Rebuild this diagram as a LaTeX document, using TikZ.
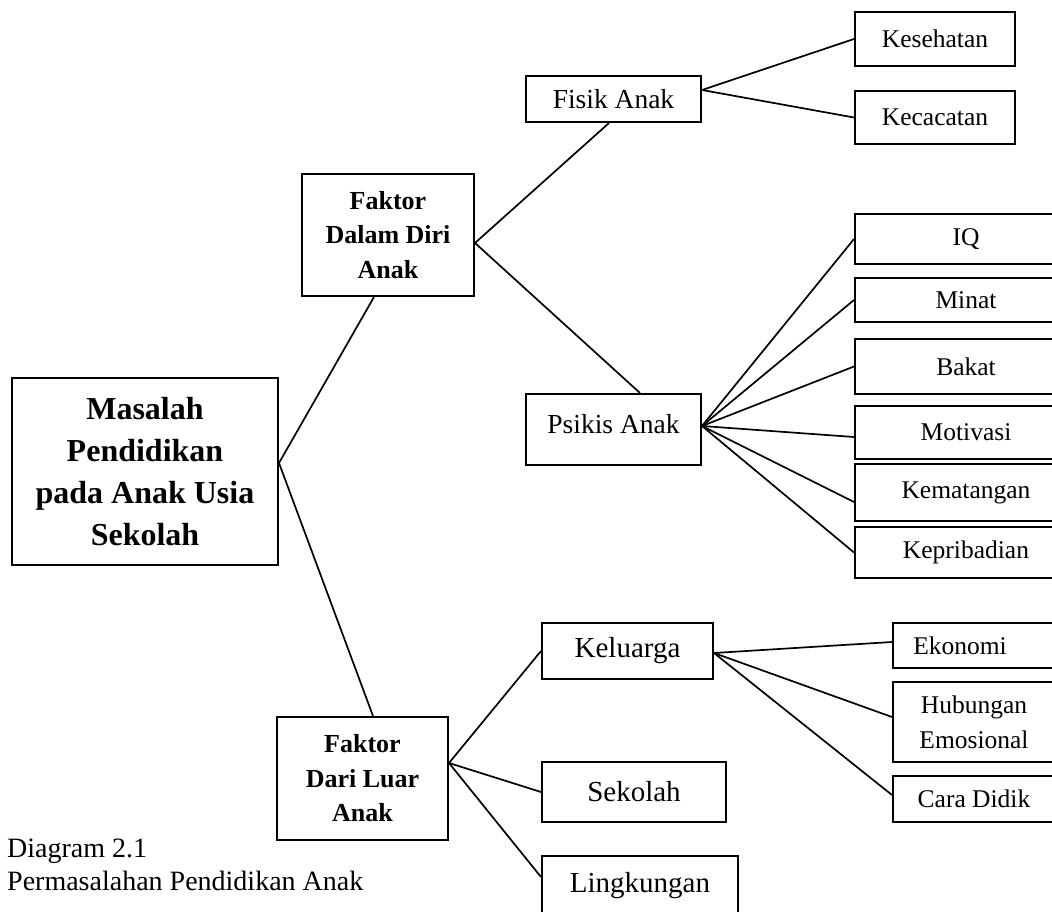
\documentclass[tikz,border=0pt]{standalone}
\usepackage{fontspec}
\setmainfont{Liberation Serif}
\begin{document}
\begin{tikzpicture}[x=1pt,y=-1pt,
    box/.style={draw, line width=2pt, inner sep=0pt, align=center},
    link/.style={line width=1.7pt},
    leaftext/.style={font=\fontsize{25.5}{35}\selectfont},
    midtext/.style={font=\fontsize{27.5}{32}\selectfont},
    bigtext/.style={font=\fontsize{29}{34}\selectfont},
    headtext/.style={font=\fontsize{26}{34.5}\selectfont\bfseries}]
    \useasboundingbox (0,0) rectangle (1052,912);
    \clip (0,0) rectangle (1052,912);

    % root and the two factors
    \node[box, font=\fontsize{32}{42}\selectfont\bfseries,
        minimum width=266pt, minimum height=187pt] (root) at (145,471.5)
        {Masalah\\Pendidikan\\pada Anak Usia\\Sekolah};
    \node[box, headtext, minimum width=172pt, minimum height=122pt] (dalam) at (388,235)
        {Faktor\\Dalam Diri\\Anak};
    \node[box, headtext, minimum width=171pt, minimum height=123pt] (luar) at (362.5,778.5)
        {Faktor\\Dari Luar\\Anak};

    % inner factors
    \node[box, midtext, minimum width=175pt, minimum height=46pt] (fisik) at (613.5,99) {Fisik Anak};
    \node[box, midtext, text depth=12pt, minimum width=175pt, minimum height=71pt] (psikis) at (613.5,429.5) {Psikis Anak};
    \node[box, leaftext, minimum width=160pt, minimum height=54pt] (kesehatan) at (935,39) {Kesehatan};
    \node[box, leaftext, minimum width=160pt, minimum height=53pt] (kecacatan) at (935,117.5) {Kecacatan};
    \node[box, leaftext, minimum width=222pt, minimum height=50pt] (iq) at (966,239) {IQ};
    \node[box, leaftext, minimum width=222pt, minimum height=44pt] (minat) at (966,300) {Minat};
    \node[box, leaftext, minimum width=222pt, minimum height=55pt] (bakat) at (966,366.5) {Bakat};
    \node[box, leaftext, minimum width=222pt, minimum height=53pt] (motivasi) at (966,432.5) {Motivasi};
    \node[box, leaftext, minimum width=222pt, minimum height=57pt] (kematangan) at (966,492.5) {Kematangan};
    \node[box, leaftext, minimum width=222pt, minimum height=51pt] (kepribadian) at (966,552.5) {Kepribadian};

    % outer factors
    \node[box, bigtext, minimum width=171pt, minimum height=56pt] (keluarga) at (627.5,651) {Keluarga};
    \node[box, bigtext, minimum width=184pt, minimum height=60pt] (sekolah) at (634,792) {Sekolah};
    \node[box, bigtext, minimum width=196pt, minimum height=59pt] (lingkungan) at (640,885.5) {Lingkungan};
    \node[box, leaftext, minimum width=162pt, minimum height=45pt] (ekonomi) at (974,645.5) {Ekonomi\hspace*{28pt}};
    \node[box, leaftext, minimum width=162pt, minimum height=80pt] (hubungan) at (974,722) {Hubungan\\Emosional};
    \node[box, leaftext, minimum width=162pt, minimum height=46pt] (caradidik) at (974,799) {Cara Didik};

    % branching points
    \coordinate (rootr) at ([yshift=8.5pt]root.east);
    \coordinate (dalamr) at ([yshift=-8pt]dalam.east);
    \coordinate (luarr) at ([yshift=15.5pt]luar.east);
    \coordinate (fisikr) at ([yshift=9pt]fisik.east);
    \coordinate (psikisr) at ([yshift=3.5pt]psikis.east);
    \coordinate (keluargar) at ([yshift=-2pt]keluarga.east);

    \draw[link] (rootr) -- ([xshift=-14pt]dalam.south);
    \draw[link] (rootr) -- ([xshift=10.5pt]luar.north);
    \draw[link] (dalamr) -- ([xshift=-4.5pt]fisik.south);
    \draw[link] (dalamr) -- ([xshift=26.5pt]psikis.north);
    \foreach \leaf in {kesehatan,kecacatan}
        \draw[link] (fisikr) -- (\leaf.west);
    \foreach \leaf in {iq,minat,bakat,kepribadian}
        \draw[link] (psikisr) -- (\leaf.west);
    \draw[link] (psikisr) -- ([yshift=-4.5pt]motivasi.west);
    \draw[link] (psikisr) -- ([yshift=-9.5pt]kematangan.west);
    \foreach \leaf in {keluarga,sekolah}
        \draw[link] (luarr) -- (\leaf.west);
    \draw[link] (luarr) -- ([yshift=8.5pt]lingkungan.west);
    \draw[link] (keluargar) -- ([yshift=3.5pt]ekonomi.west);
    \draw[link] (keluargar) -- ([yshift=5pt]hubungan.west);
    \draw[link] (keluargar) -- ([yshift=4pt]caradidik.west);

    % caption
    \node[anchor=base west, inner sep=0pt, font=\fontsize{28}{33}\selectfont] (captiona) at (7,857) {Diagram 2.1};
    \node[anchor=base west, inner sep=0pt, font=\fontsize{28}{33}\selectfont] (captionb) at (7,890) {Permasalahan Pendidikan Anak};
\end{tikzpicture}
\end{document}
